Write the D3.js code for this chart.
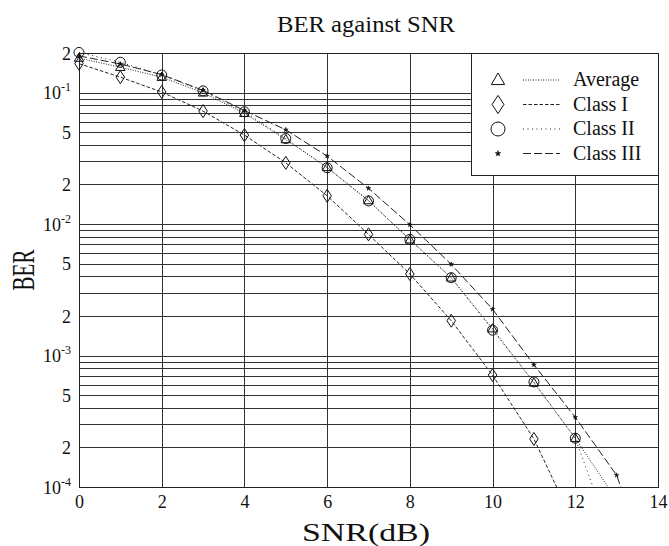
<!DOCTYPE html>
<html>
<head>
<meta charset="utf-8">
<script src="https://cdn.jsdelivr.net/npm/d3@7"></script>
<style>
    body { margin: 0; background: #fff; }
    text { font-family: "Liberation Serif", "DejaVu Serif", serif; fill: #111; }
</style>
</head>
<body>
<div id="chart"></div>
<script>
// SNR in dB, one value per measured point
const snr = [0, 1, 2, 3, 4, 5, 6, 7, 8, 9, 10, 11, 12, 13, 14];

// BER
const average = [0.183, 0.156, 0.131, 0.0996, 0.0697, 0.0440, 0.0270, 0.0151, 0.0076, 0.0039, 0.00160, 6.2e-4, 2.35e-4, 8.0e-5];
const classI = [0.166, 0.131, 0.101, 0.0723, 0.0475, 0.0292, 0.0164, 0.00835, 0.00417, 0.00184, 7.1e-4, 2.32e-4, 5.0e-5];
const classII = [0.202, 0.170, 0.136, 0.103, 0.0714, 0.0447, 0.0268, 0.0150, 0.00765, 0.00391, 0.00156, 6.3e-4, 2.35e-4, 3.2e-5];
const classIII = [0.190, 0.165, 0.137, 0.104, 0.0730, 0.0521, 0.0329, 0.0187, 0.00988, 0.00494, 0.00225, 8.5e-4, 3.39e-4, 1.23e-4, 1.6e-5];

const xTicks = [0, 2, 4, 6, 8, 10, 12, 14];
const yTicks = [1e-4, 2e-4, 5e-4, 1e-3, 2e-3, 5e-3, 1e-2, 2e-2, 5e-2, 1e-1, 2e-1];
const yTickLabels = ['10|-4', '2', '5', '10|-3', '2', '5', '10|-2', '2', '5', '10|-1', '2'];

const series = [
    { name: 'Average', values: average, symbol: 'triangle', dash: '1,1.5' },
    { name: 'Class I', values: classI, symbol: 'diamond', dash: '3.5,2' },
    { name: 'Class II', values: classII, symbol: 'circle', dash: '1,3.5' },
    { name: 'Class III', values: classIII, symbol: 'star', dash: '8,3' }
];

const width = 669;
const height = 546;
const margin = { top: 53, left: 79, right: 11, bottom: 59 };

const svg = d3.select('#chart')
    .append('svg')
    .attr('width', width)
    .attr('height', height);

const x = d3.scaleLinear()
    .domain([0, 14])
    .range([margin.left, width - margin.right]);

const y = d3.scaleLog()
    .domain([1e-4, 0.2])
    .range([height - margin.bottom, margin.top]);

// grid
const minor = [];
for (let e = -4; e <= -1; e++) {
    for (let m = 1; m <= 9; m++) {
        const v = m * Math.pow(10, e);
        if (v > 1e-4 && v < 0.2) minor.push(v);
    }
}

svg.append('g')
    .attr('stroke', '#333')
    .attr('stroke-width', 1)
    .selectAll('line')
    .data(minor)
    .join('line')
    .attr('x1', x(0))
    .attr('x2', x(14))
    .attr('y1', d => Math.round(y(d)) + 0.5)
    .attr('y2', d => Math.round(y(d)) + 0.5);

svg.append('g')
    .attr('stroke', '#333')
    .attr('stroke-width', 1)
    .selectAll('line')
    .data(xTicks.slice(1, -1))
    .join('line')
    .attr('x1', d => Math.round(x(d)) + 0.5)
    .attr('x2', d => Math.round(x(d)) + 0.5)
    .attr('y1', y(0.2))
    .attr('y2', y(1e-4));

svg.append('rect')
    .attr('x', x(0) + 0.5)
    .attr('y', y(0.2) + 0.5)
    .attr('width', x(14) - x(0))
    .attr('height', y(1e-4) - y(0.2))
    .attr('fill', 'none')
    .attr('stroke', '#222');

// axes
const xAxis = g => g
    .attr('transform', `translate(0, ${y(1e-4)})`)
    .call(d3.axisBottom(x).tickValues(xTicks).tickSize(0).tickPadding(8))
    .call(g => g.select('.domain').remove())
    .selectAll('text')
    .attr('font-size', '18px')
    .attr('font-family', '"Liberation Serif", serif')
    .attr('fill', '#111');

svg.append('g').call(xAxis);

const yAxis = svg.append('g')
    .attr('transform', `translate(${x(0)}, 0)`)
    .call(d3.axisLeft(y).tickValues(yTicks).tickSize(0).tickPadding(8).tickFormat(() => ''));
yAxis.select('.domain').remove();

yAxis.selectAll('.tick text')
    .attr('font-size', '18px')
    .attr('font-family', '"Liberation Serif", serif')
    .attr('fill', '#111')
    .attr('dy', '0.35em')
    .each(function(d, i) {
        const parts = yTickLabels[i].split('|');
        const t = d3.select(this);
        t.append('tspan').text(parts[0]);
        if (parts[1]) {
            t.append('tspan')
                .attr('font-size', '12px')
                .attr('dy', '-8')
                .text(parts[1]);
        }
    });

// series
svg.append('defs').append('clipPath')
    .attr('id', 'plotClip')
    .append('rect')
    .attr('x', 0)
    .attr('y', 0)
    .attr('width', width)
    .attr('height', y(1e-4));

const line = d3.line()
    .x(d => x(d[0]))
    .y(d => y(d[1]));

const symbolPath = (type, s) => {
    if (type === 'triangle') return `M0,${-s}L${s * 0.95},${s * 0.65}L${-s * 0.95},${s * 0.65}Z`;
    if (type === 'diamond') return `M0,${-s * 1.3}L${s * 0.85},0L0,${s * 1.3}L${-s * 0.85},0Z`;
    if (type === 'circle') return `M${s},0A${s},${s} 0 1,1 ${-s},0A${s},${s} 0 1,1 ${s},0Z`;
    return d3.symbol(d3.symbolStar, s * s)();
};

const plot = svg.append('g').attr('clip-path', 'url(#plotClip)');

series.forEach(s => {
    const pts = s.values.map((v, i) => [snr[i], v]);

    plot.append('path')
        .datum(pts)
        .attr('d', line)
        .attr('fill', 'none')
        .attr('stroke', '#222')
        .attr('stroke-width', 1)
        .attr('stroke-dasharray', s.dash);

    plot.append('g')
        .selectAll('path')
        .data(pts)
        .join('path')
        .attr('transform', d => `translate(${x(d[0])}, ${y(d[1])})`)
        .attr('d', symbolPath(s.symbol, s.symbol === 'star' ? 2.6 : 5))
        .attr('fill', s.symbol === 'star' ? '#111' : 'none')
        .attr('stroke', '#111')
        .attr('stroke-width', s.symbol === 'star' ? 0.5 : 1);
});

// legend
const legend = svg.append('g');
legend.append('rect')
    .attr('x', 471.5)
    .attr('y', y(0.2) + 0.5)
    .attr('width', x(14) - 471)
    .attr('height', 122)
    .attr('fill', '#fff')
    .attr('stroke', '#222');

series.forEach((s, i) => {
    const cy = 80 + i * 24.5;
    legend.append('path')
        .attr('transform', `translate(498, ${cy})`)
        .attr('d', symbolPath(s.symbol, s.symbol === 'star' ? 3.2 : 7))
        .attr('fill', s.symbol === 'star' ? '#111' : 'none')
        .attr('stroke', '#111')
        .attr('stroke-width', s.symbol === 'star' ? 0.5 : 1);
    legend.append('line')
        .attr('x1', 523)
        .attr('x2', 560)
        .attr('y1', cy)
        .attr('y2', cy)
        .attr('stroke', '#222')
        .attr('stroke-dasharray', s.dash);
    legend.append('text')
        .attr('x', 573)
        .attr('y', cy + 6)
        .attr('font-size', '20px')
        .text(s.name);
});

// titles
svg.append('text')
    .attr('x', 366)
    .attr('y', 32)
    .attr('text-anchor', 'middle')
    .attr('font-size', '24px')
    .attr('textLength', 178)
    .attr('lengthAdjust', 'spacingAndGlyphs')
    .text('BER against SNR');

svg.append('text')
    .attr('x', 366)
    .attr('y', 541)
    .attr('text-anchor', 'middle')
    .attr('font-size', '25px')
    .attr('textLength', 128)
    .attr('lengthAdjust', 'spacingAndGlyphs')
    .text('SNR(dB)');

svg.append('text')
    .attr('transform', 'translate(34, 270) rotate(-90) scale(1, 1.5)')
    .attr('text-anchor', 'middle')
    .attr('font-size', '21px')
    .text('BER');
</script>
</body>
</html>
